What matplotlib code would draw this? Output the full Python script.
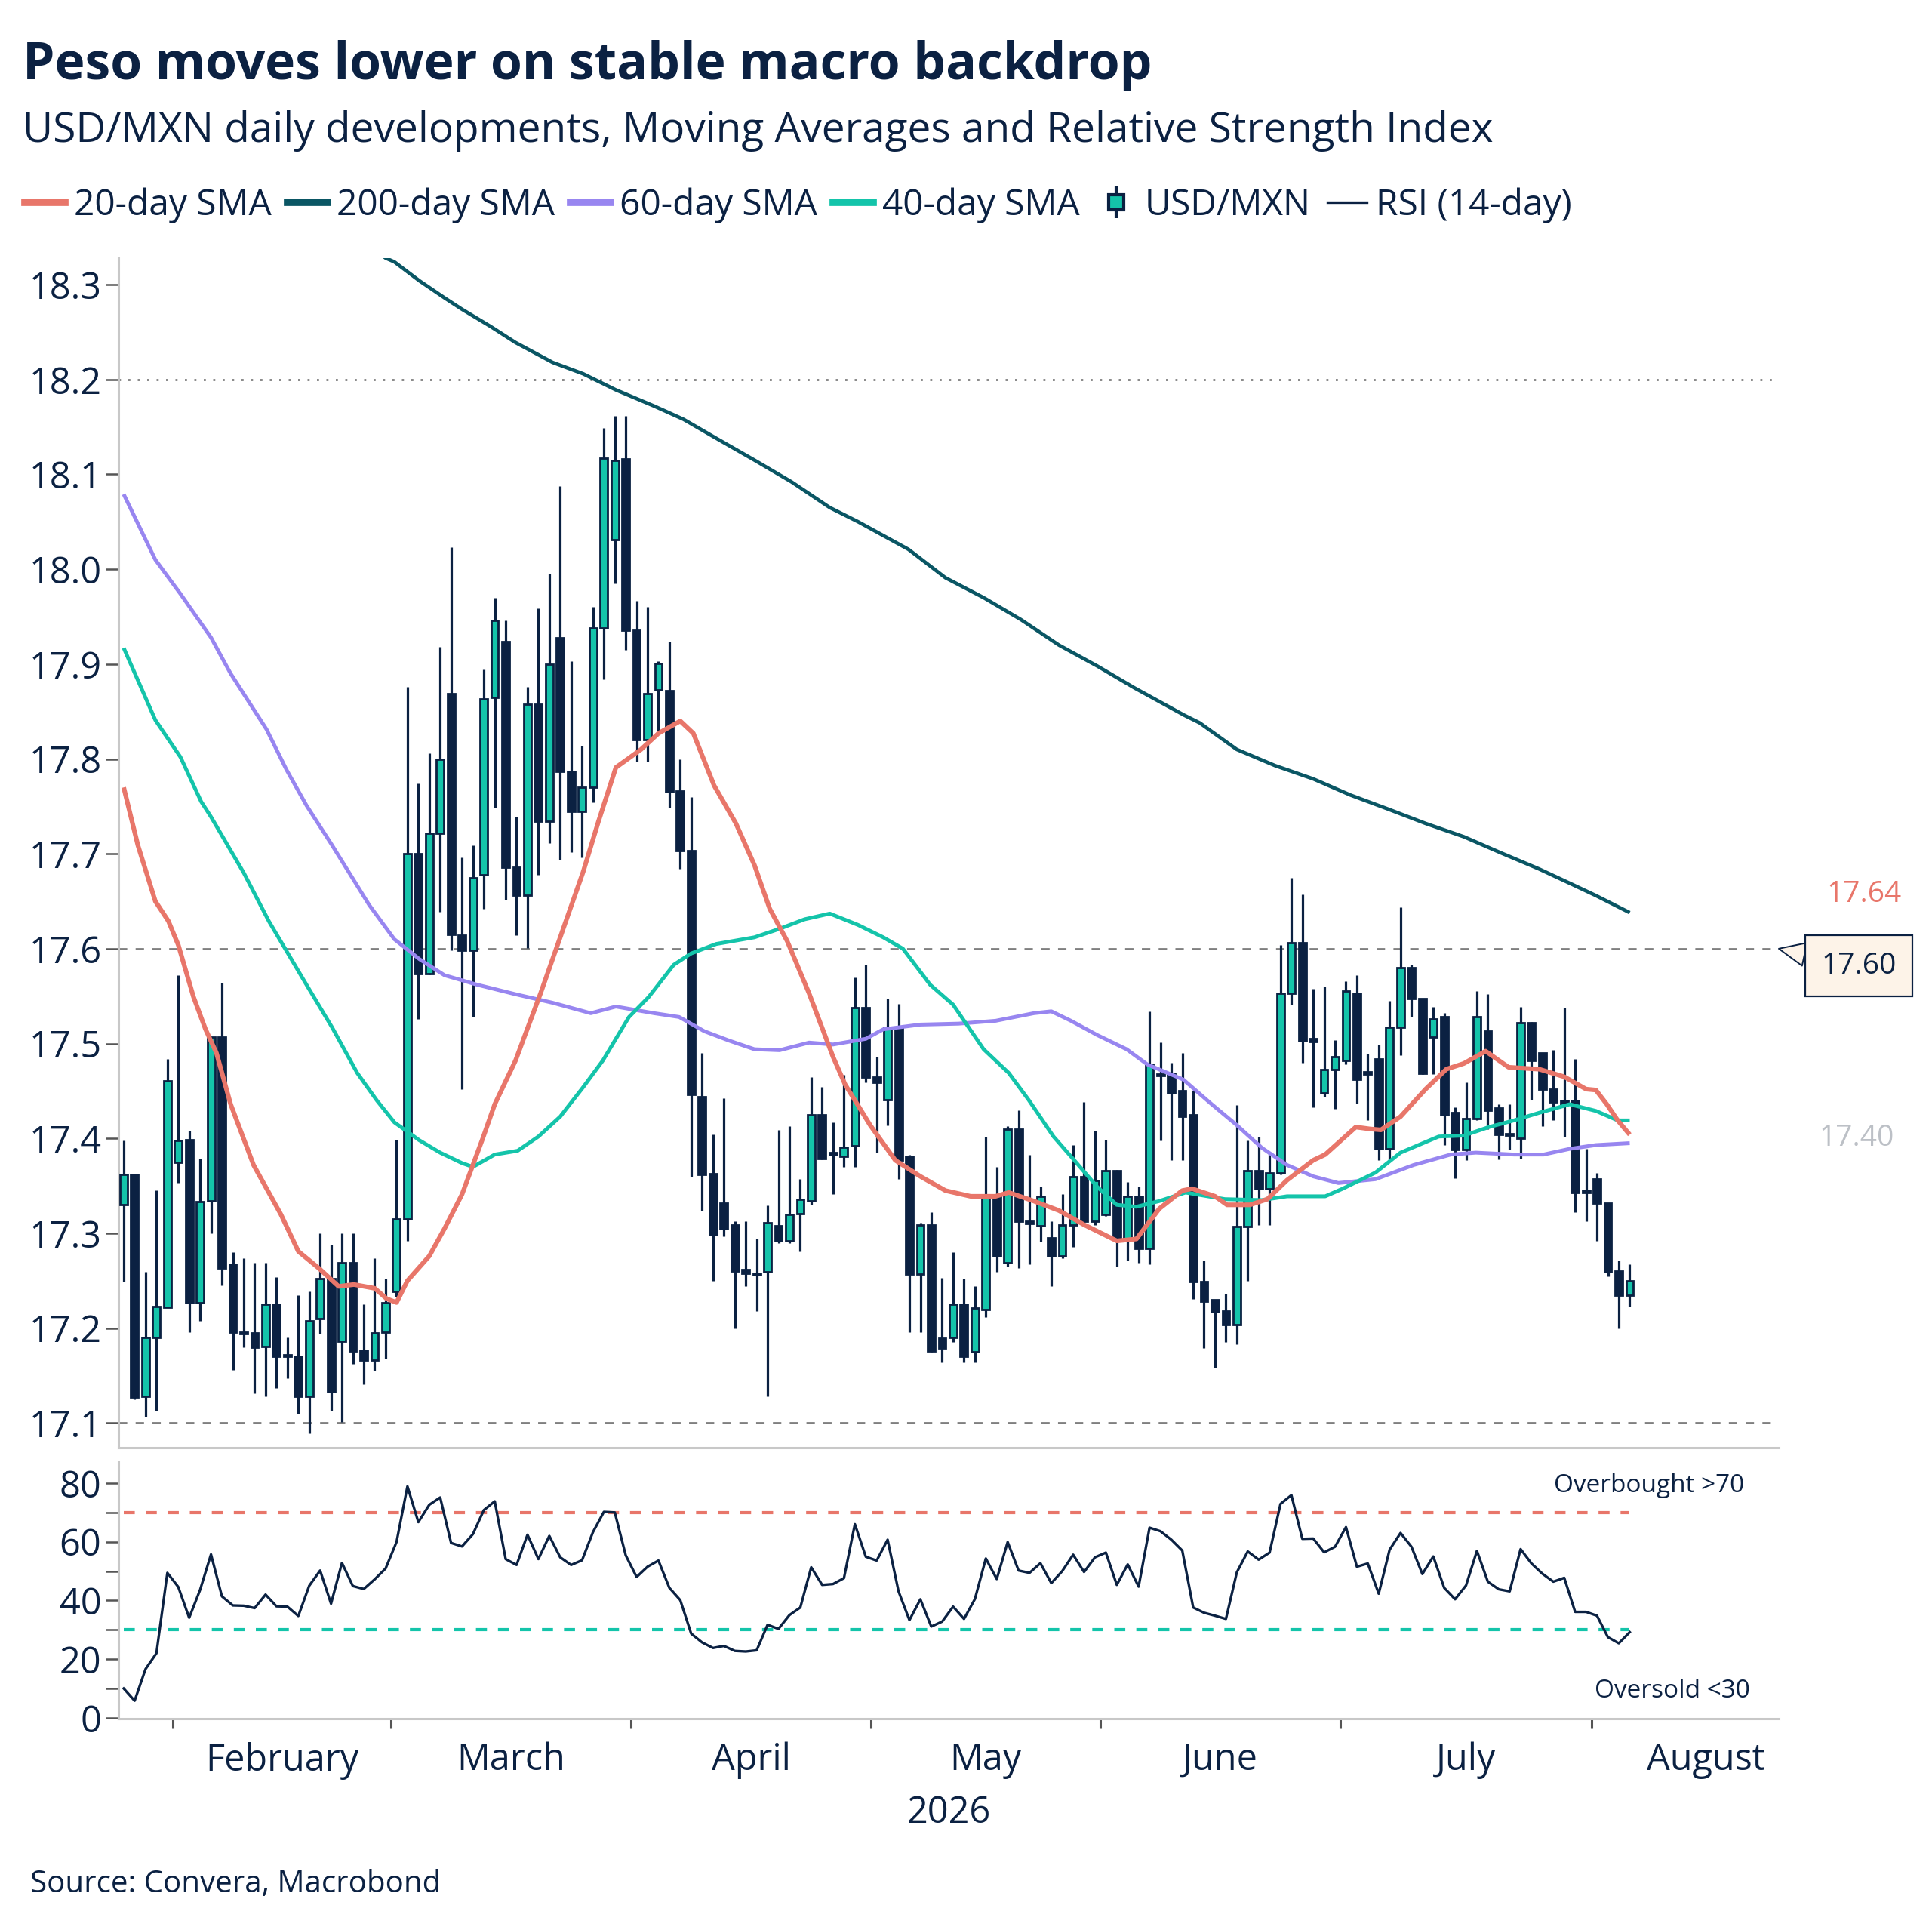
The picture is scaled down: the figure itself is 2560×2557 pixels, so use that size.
import numpy as np
import pandas as pd
import matplotlib
matplotlib.use("Agg")
import matplotlib.pyplot as plt
from matplotlib.lines import Line2D
from matplotlib.legend_handler import HandlerTuple
import matplotlib.transforms as mtransforms

plt.rcParams['font.family'] = ['Open Sans', 'DejaVu Sans']

NAVY = '#0b2142'
TEAL = '#14c4aa'
RED = '#e8766a'
DTEAL = '#0a5664'
PURPLE = '#9886f0'
GRID = '#7f7f7f'
SPINE = '#c8c8c8'

# ---------------- data ----------------
dates = pd.bdate_range('2026-01-26', '2026-08-06')

opens = [17.330, 17.362, 17.128, 17.190, 17.222, 17.375, 17.399, 17.227, 17.334, 17.507,
         17.267, 17.196, 17.195, 17.181, 17.225, 17.172, 17.170, 17.128, 17.210, 17.252,
         17.186, 17.269, 17.177, 17.166, 17.196, 17.239, 17.315, 17.700, 17.574, 17.722,
         17.869, 17.614, 17.598, 17.678, 17.865, 17.924, 17.686, 17.656, 17.858, 17.734,
         17.928, 17.787, 17.745, 17.770, 17.938, 18.031, 18.116, 17.936, 17.820, 17.873,
         17.872, 17.766, 17.703, 17.444, 17.363, 17.332, 17.309, 17.262, 17.258, 17.259,
         17.308, 17.292, 17.321, 17.334, 17.425, 17.385, 17.381, 17.392, 17.538, 17.465,
         17.441, 17.517, 17.381, 17.257, 17.309, 17.189, 17.190, 17.225, 17.175, 17.220,
         17.339, 17.269, 17.410, 17.313, 17.308, 17.295, 17.276, 17.309, 17.360, 17.313,
         17.320, 17.366, 17.294, 17.339, 17.284, 17.468, 17.469, 17.450, 17.425, 17.249,
         17.230, 17.218, 17.204, 17.307, 17.366, 17.347, 17.364, 17.553, 17.606, 17.505,
         17.448, 17.473, 17.482, 17.553, 17.470, 17.484, 17.389, 17.517, 17.580, 17.547,
         17.507, 17.528, 17.427, 17.388, 17.421, 17.513, 17.432, 17.405, 17.400, 17.522,
         17.490, 17.452, 17.440, 17.440, 17.345, 17.357, 17.332, 17.260, 17.235]
highs = [17.398, 17.362, 17.259, 17.345, 17.484, 17.572, 17.408, 17.379, 17.507, 17.564,
         17.280, 17.274, 17.269, 17.269, 17.254, 17.190, 17.235, 17.239, 17.300, 17.288,
         17.300, 17.300, 17.225, 17.274, 17.252, 17.399, 17.876, 17.774, 17.806, 17.918,
         18.023, 17.696, 17.709, 17.894, 17.970, 17.946, 17.739, 17.876, 17.959, 17.995,
         18.088, 17.903, 17.814, 17.960, 18.149, 18.162, 18.162, 17.967, 17.960, 17.903,
         17.924, 17.800, 17.760, 17.490, 17.404, 17.442, 17.313, 17.313, 17.294, 17.329,
         17.409, 17.413, 17.357, 17.465, 17.454, 17.417, 17.467, 17.570, 17.583, 17.486,
         17.547, 17.542, 17.383, 17.311, 17.322, 17.253, 17.280, 17.252, 17.244, 17.402,
         17.370, 17.413, 17.430, 17.383, 17.349, 17.313, 17.341, 17.393, 17.438, 17.408,
         17.399, 17.367, 17.354, 17.349, 17.534, 17.501, 17.480, 17.490, 17.450, 17.271,
         17.230, 17.236, 17.435, 17.398, 17.402, 17.385, 17.604, 17.675, 17.657, 17.558,
         17.560, 17.504, 17.566, 17.572, 17.489, 17.499, 17.545, 17.644, 17.583, 17.547,
         17.539, 17.532, 17.433, 17.459, 17.555, 17.552, 17.436, 17.436, 17.539, 17.523,
         17.490, 17.493, 17.538, 17.484, 17.389, 17.364, 17.332, 17.271, 17.267]
lows = [17.249, 17.125, 17.107, 17.113, 17.222, 17.353, 17.196, 17.208, 17.300, 17.245,
        17.156, 17.180, 17.131, 17.128, 17.137, 17.147, 17.110, 17.089, 17.194, 17.113,
        17.101, 17.162, 17.141, 17.155, 17.168, 17.233, 17.292, 17.526, 17.573, 17.639,
        17.598, 17.452, 17.528, 17.642, 17.749, 17.652, 17.614, 17.601, 17.678, 17.711,
        17.694, 17.702, 17.696, 17.754, 17.884, 17.985, 17.915, 17.797, 17.797, 17.829,
        17.749, 17.684, 17.360, 17.324, 17.250, 17.297, 17.200, 17.244, 17.218, 17.128,
        17.290, 17.290, 17.281, 17.330, 17.378, 17.341, 17.370, 17.370, 17.459, 17.385,
        17.414, 17.357, 17.196, 17.196, 17.175, 17.164, 17.185, 17.164, 17.164, 17.212,
        17.259, 17.265, 17.263, 17.267, 17.291, 17.244, 17.274, 17.286, 17.309, 17.309,
        17.318, 17.265, 17.271, 17.269, 17.267, 17.398, 17.377, 17.377, 17.231, 17.179,
        17.158, 17.185, 17.183, 17.250, 17.309, 17.309, 17.362, 17.541, 17.480, 17.433,
        17.444, 17.431, 17.478, 17.437, 17.419, 17.377, 17.377, 17.488, 17.528, 17.468,
        17.468, 17.393, 17.358, 17.377, 17.419, 17.410, 17.378, 17.388, 17.379, 17.441,
        17.413, 17.419, 17.402, 17.322, 17.313, 17.292, 17.255, 17.200, 17.223]
closes = [17.362, 17.127, 17.190, 17.223, 17.461, 17.398, 17.227, 17.333, 17.507, 17.263,
          17.196, 17.194, 17.180, 17.225, 17.170, 17.170, 17.128, 17.208, 17.252, 17.133,
          17.269, 17.176, 17.166, 17.195, 17.227, 17.315, 17.700, 17.574, 17.722, 17.800,
          17.615, 17.598, 17.675, 17.863, 17.946, 17.686, 17.656, 17.858, 17.734, 17.900,
          17.787, 17.745, 17.770, 17.938, 18.117, 18.115, 17.936, 17.820, 17.869, 17.901,
          17.765, 17.703, 17.446, 17.362, 17.298, 17.305, 17.260, 17.258, 17.256, 17.311,
          17.292, 17.320, 17.336, 17.425, 17.379, 17.383, 17.391, 17.538, 17.465, 17.459,
          17.517, 17.377, 17.257, 17.309, 17.176, 17.179, 17.225, 17.170, 17.221, 17.339,
          17.276, 17.410, 17.313, 17.310, 17.339, 17.276, 17.309, 17.360, 17.313, 17.356,
          17.366, 17.294, 17.339, 17.284, 17.478, 17.466, 17.448, 17.423, 17.249, 17.228,
          17.217, 17.204, 17.307, 17.366, 17.347, 17.364, 17.553, 17.606, 17.503, 17.502,
          17.473, 17.486, 17.555, 17.462, 17.468, 17.389, 17.517, 17.580, 17.547, 17.469,
          17.526, 17.425, 17.388, 17.421, 17.528, 17.430, 17.404, 17.403, 17.522, 17.482,
          17.452, 17.438, 17.436, 17.343, 17.343, 17.332, 17.259, 17.235, 17.250]

sma20_x = [0, 1.3, 2.9, 4.1, 5.0, 6.4, 7.5, 8.5, 9.8, 11.9, 14.4, 16.0, 17.9, 19.7, 21.1, 23.0,
           24.1, 25.0, 26.0, 28.0, 29.4, 31.0, 32.9, 34.0, 35.9, 38.2, 40.0, 42.1, 43.5, 45.1,
           47.4, 49.0, 51.0, 52.2, 54.1, 56.1, 57.8, 59.2, 60.8, 62.8, 65.0, 66.1, 68.4, 70.7,
           73.0, 75.3, 77.6, 79.9, 81.1, 83.4, 85.7, 88.0, 91.0, 92.8, 94.9, 97.0, 97.9, 100.0,
           101.1, 103.2, 104.8, 106.6, 109.0, 110.1, 112.9, 114.2, 115.2, 117.0, 119.3, 121.2,
           122.8, 124.8, 126.9, 129.7, 132.0, 134.0, 134.9, 135.9, 136.9, 138.0]
sma20_v = [17.770, 17.709, 17.650, 17.629, 17.604, 17.549, 17.515, 17.490, 17.436, 17.372,
           17.320, 17.281, 17.263, 17.244, 17.246, 17.242, 17.231, 17.227, 17.250, 17.276,
           17.305, 17.341, 17.400, 17.436, 17.482, 17.553, 17.612, 17.681, 17.734, 17.791,
           17.810, 17.827, 17.840, 17.827, 17.772, 17.732, 17.688, 17.642, 17.608, 17.553,
           17.486, 17.457, 17.414, 17.377, 17.360, 17.345, 17.339, 17.339, 17.343, 17.334,
           17.324, 17.309, 17.292, 17.294, 17.326, 17.345, 17.347, 17.339, 17.330, 17.330,
           17.336, 17.356, 17.377, 17.383, 17.412, 17.410, 17.409, 17.423, 17.452, 17.473,
           17.479, 17.492, 17.475, 17.473, 17.465, 17.452, 17.451, 17.436, 17.419, 17.404]

sma40_x = [0, 2.9, 5.2, 7.1, 8.0, 11.0, 13.3, 16.75, 19.1, 21.4, 23.2, 24.8, 27.1, 29.0, 31.0,
           32.0, 34.0, 36.1, 38.0, 40.0, 42.1, 43.9, 46.3, 48.1, 50.4, 52.0, 54.3, 57.8, 60.1,
           62.4, 64.7, 67.3, 69.6, 71.4, 73.9, 76.0, 78.8, 81.1, 82.9, 85.2, 87.1, 89.2, 91.0,
           92.8, 94.9, 97.3, 100.9, 104.3, 106.6, 110.1, 111.7, 114.7, 117.0, 120.5, 122.8,
           125.1, 127.4, 129.7, 132.5, 134.9, 136.9, 138.0]
sma40_v = [17.917, 17.841, 17.802, 17.755, 17.739, 17.680, 17.629, 17.562, 17.517, 17.469,
           17.440, 17.417, 17.398, 17.385, 17.374, 17.370, 17.383, 17.387, 17.402, 17.423,
           17.454, 17.482, 17.528, 17.549, 17.583, 17.595, 17.605, 17.612, 17.621, 17.631,
           17.637, 17.625, 17.612, 17.600, 17.562, 17.541, 17.494, 17.469, 17.441, 17.402,
           17.377, 17.349, 17.330, 17.328, 17.334, 17.343, 17.336, 17.335, 17.339, 17.339,
           17.347, 17.364, 17.385, 17.402, 17.403, 17.412, 17.419, 17.427, 17.436, 17.429,
           17.419, 17.419]

sma60_x = [0, 2.9, 5.2, 8.0, 9.8, 13.1, 14.9, 16.75, 19.1, 22.5, 24.8, 27.1, 29.4, 32.4, 35.9,
           39.3, 42.8, 45.1, 48.6, 50.9, 53.2, 55.5, 57.8, 60.1, 62.8, 65.0, 68.0, 69.6, 73.0,
           76.5, 79.9, 83.4, 85.0, 86.8, 89.2, 91.9, 93.8, 97.1, 99.7, 102.0, 104.3, 106.6,
           109.0, 111.3, 114.7, 118.2, 121.6, 123.9, 127.4, 130.1, 132.5, 134.9, 138.0]
sma60_v = [18.079, 18.010, 17.974, 17.928, 17.890, 17.831, 17.789, 17.751, 17.709, 17.646,
           17.610, 17.589, 17.572, 17.562, 17.552, 17.543, 17.532, 17.539, 17.532, 17.528,
           17.513, 17.503, 17.494, 17.493, 17.501, 17.499, 17.505, 17.515, 17.520, 17.521,
           17.524, 17.532, 17.534, 17.524, 17.509, 17.494, 17.478, 17.462, 17.436, 17.414,
           17.390, 17.372, 17.360, 17.353, 17.357, 17.372, 17.383, 17.385, 17.383, 17.383,
           17.389, 17.393, 17.395]

sma200_x = [22.5, 24.0, 24.8, 27.1, 29.4, 31.0, 33.6, 35.9, 39.3, 42.1, 45.1, 48.6, 51.3, 54.3,
            57.8, 61.2, 64.7, 67.3, 71.9, 75.3, 78.8, 82.2, 85.7, 89.2, 92.6, 97.2, 98.6,
            102.0, 105.5, 109.0, 112.4, 115.9, 119.3, 122.8, 126.2, 129.7, 132.5, 134.9, 138.0]
sma200_v = [18.342, 18.328, 18.324, 18.304, 18.286, 18.274, 18.256, 18.239, 18.218, 18.206,
            18.189, 18.172, 18.158, 18.138, 18.115, 18.092, 18.065, 18.050, 18.021, 17.991,
            17.970, 17.947, 17.920, 17.898, 17.875, 17.846, 17.838, 17.810, 17.793, 17.779,
            17.762, 17.747, 17.732, 17.718, 17.701, 17.684, 17.669, 17.656, 17.638]

rsi = [10.0, 5.8, 16.6, 22.0, 49.4, 44.6, 34.1, 43.6, 55.7, 41.4,
       38.3, 38.2, 37.4, 42.0, 38.0, 37.9, 34.7, 45.0, 50.2, 38.9,
       52.8, 44.9, 43.9, 47.2, 50.9, 59.9, 78.9, 66.7, 72.6, 75.1,
       59.6, 58.4, 62.6, 70.8, 73.8, 54.1, 52.1, 62.4, 54.1, 62.0,
       54.7, 52.1, 53.7, 63.3, 70.2, 70.0, 55.4, 48.0, 51.5, 53.6,
       44.3, 40.1, 28.7, 25.7, 23.8, 24.5, 22.8, 22.6, 23.0, 31.7,
       30.3, 35.0, 37.6, 51.3, 45.3, 45.6, 47.6, 66.0, 54.9, 53.6,
       60.7, 43.1, 33.3, 40.4, 31.1, 32.8, 37.9, 33.7, 40.5, 54.3,
       47.3, 59.9, 50.2, 49.4, 52.7, 45.9, 50.0, 55.6, 49.7, 54.7,
       56.3, 45.3, 52.3, 44.7, 64.8, 63.6, 60.7, 57.0, 37.6, 35.8,
       34.8, 33.7, 49.6, 56.7, 53.9, 56.3, 72.9, 75.9, 61.0, 61.1,
       56.4, 58.3, 65.0, 51.5, 52.6, 42.3, 57.3, 63.0, 58.3, 49.0,
       55.0, 44.3, 40.4, 45.1, 56.9, 46.4, 43.8, 43.1, 57.5, 52.6,
       49.1, 46.4, 47.7, 36.1, 36.1, 34.8, 27.5, 25.4, 29.2]

price_ticks = [17.1, 17.2, 17.3, 17.4, 17.5, 17.6, 17.7, 17.8, 17.9, 18.0, 18.1, 18.2, 18.3]
rsi_ticks = [0, 20, 40, 60, 80]
rsi_minor = [10, 30, 50, 70]
overbought = 70
oversold = 30
ref_dotted = 18.2
ref_dashed = [17.6, 17.1]
label_200 = 17.64
label_box = 17.60
label_grey = 17.40

# ---------------- figure ----------------
x = np.arange(len(dates))
o, h, l, c = map(np.asarray, (opens, highs, lows, closes))

fig = plt.figure(figsize=(25.6, 25.57), dpi=100)
ax = fig.add_axes([0.0612, 0.2499, 0.8595, 0.6164])
axr = fig.add_axes([0.0612, 0.1095, 0.8595, 0.1330])

XMIN, XMAX = -0.5, 151.66

# reference lines
ax.axhline(ref_dotted, color=GRID, lw=2.0, ls=(0, (1, 3.5)), zorder=1)
for v in ref_dashed:
    ax.axhline(v, color=GRID, lw=2.0, ls=(0, (4, 4)), zorder=1)

# candles
up = c >= o
bot = np.minimum(o, c)
hgt = np.abs(c - o)
ax.vlines(x, l, h, color=NAVY, lw=2.3, zorder=3)
ax.bar(x[up], hgt[up], bottom=bot[up], width=0.68, color=TEAL, edgecolor=NAVY,
       linewidth=2.0, zorder=4)
ax.bar(x[~up], hgt[~up], bottom=bot[~up], width=0.68, color=NAVY, edgecolor=NAVY,
       linewidth=2.0, zorder=4)

# moving averages
ax.plot(sma20_x, sma20_v, color=RED, lw=4.4, zorder=6, solid_capstyle='butt')
ax.plot(sma200_x, sma200_v, color=DTEAL, lw=3.4, zorder=5, solid_capstyle='butt')
ax.plot(sma60_x, sma60_v, color=PURPLE, lw=3.6, zorder=5, solid_capstyle='butt')
ax.plot(sma40_x, sma40_v, color=TEAL, lw=3.6, zorder=5, solid_capstyle='butt')

ax.set_xlim(XMIN, XMAX)
ax.set_ylim(17.074, 18.328)
ax.set_yticks(price_ticks)
ax.set_yticklabels([f'{t:.1f}' for t in price_ticks])
ax.tick_params(axis='y', length=12, width=1.8, color='#555555', labelsize=35,
               labelcolor=NAVY, pad=4)
ax.set_xticks([])
ax.tick_params(axis='x', which='both', bottom=False, labelbottom=False)
for s in ['top', 'right']:
    ax.spines[s].set_visible(False)
for s in ['left', 'bottom']:
    ax.spines[s].set_color(SPINE)
    ax.spines[s].set_linewidth(2.2)

# right-side labels
trans = mtransforms.blended_transform_factory(ax.transAxes, ax.transData)
ax.text(1.0513, label_200 + 0.017, f'{label_200:.2f}', transform=trans, color=RED,
        fontsize=28, ha='center', va='center', clip_on=False)
ax.text(1.0470, label_grey, f'{label_grey:.2f}', transform=trans, color='#bcc0c6',
        fontsize=28, ha='center', va='center', clip_on=False)
ax.annotate(f'{label_box:.2f}', xy=(1.0, label_box), xycoords=trans,
            xytext=(106, -23), textcoords='offset pixels', fontsize=28, color=NAVY,
            ha='center', va='center', annotation_clip=False,
            bbox=dict(boxstyle='square,pad=0.55', fc='#fdf3e8', ec=NAVY, lw=1.6),
            arrowprops=dict(arrowstyle='wedge,tail_width=0.8,shrink_factor=0.5',
                            fc='#fdf3e8', ec=NAVY, lw=1.4, shrinkA=0, shrinkB=0))

# RSI panel
axr.plot(x, rsi, color=NAVY, lw=2.4, zorder=4)
axr.hlines([overbought], x[0], x[-1], color=RED, lw=3.0, ls=(0, (3.5, 3.5)), zorder=2)
axr.hlines([oversold], x[0], x[-1], color=TEAL, lw=3.0, ls=(0, (3.5, 3.5)), zorder=2)
axr.text(148.5, 79.2, f'Overbought >{overbought}', ha='right', va='center', fontsize=24,
         color=NAVY)
axr.text(149.0, 9.0, f'Oversold <{oversold}', ha='right', va='center', fontsize=24,
         color=NAVY)
axr.set_ylim(-0.3, 87.2)
axr.set_yticks(rsi_ticks)
axr.set_yticks(rsi_minor, minor=True)
axr.tick_params(axis='y', which='both', length=12, width=1.8, color='#555555',
                labelsize=35, labelcolor=NAVY, pad=4)
for s in ['top', 'right']:
    axr.spines[s].set_visible(False)
for s in ['left', 'bottom']:
    axr.spines[s].set_color(SPINE)
    axr.spines[s].set_linewidth(2.2)

# month ticks (boundaries) and labels (centres)
months = pd.period_range('2026-02', '2026-08', freq='M')
bounds, centres, names = [], [], []
for m in months:
    bd = pd.bdate_range(m.start_time, m.end_time)
    first = int(np.searchsorted(dates, bd[0]))
    bounds.append(first - 0.5)
    centres.append(first + (len(bd) - 1) / 2)
    names.append(m.strftime('%B'))
axr.set_xticks(bounds)
axr.set_xticklabels([''] * len(bounds))
axr.set_xticks(centres, minor=True)
axr.set_xticklabels(names, minor=True)
axr.tick_params(axis='x', which='major', length=9, width=2.2, color='#555555',
                direction='out')
axr.tick_params(axis='x', which='minor', length=0, pad=22, labelsize=35,
                labelcolor=NAVY)
axr.set_xlim(XMIN, XMAX)
axr.set_xlabel(str(dates[0].year), fontsize=35, color=NAVY, labelpad=14)

# titles
fig.text(0.0117, 0.9589, 'Peso moves lower on stable macro backdrop', fontsize=48.8,
         fontweight='bold', color=NAVY, ha='left', va='baseline')
fig.text(0.0117, 0.9265,
         'USD/MXN daily developments, Moving Averages and Relative Strength Index',
         fontsize=39.6, color=NAVY, ha='left', va='baseline')
fig.text(0.0156, 0.0196, 'Source: Convera, Macrobond', fontsize=29, color=NAVY,
         ha='left', va='baseline')

# legend
candle_handle = (Line2D([], [], color=NAVY, marker='|', ms=30, mew=3, ls='None'),
                 Line2D([], [], color=NAVY, marker='s', ms=15, mfc=TEAL, mec=NAVY,
                        mew=3, ls='None'))
handles = [Line2D([], [], color=RED, lw=7), Line2D([], [], color=DTEAL, lw=7),
           Line2D([], [], color=PURPLE, lw=7), Line2D([], [], color=TEAL, lw=7),
           candle_handle, Line2D([], [], color=NAVY, lw=2.4)]
labels = ['20-day SMA', '200-day SMA', '60-day SMA', '40-day SMA', 'USD/MXN', 'RSI (14-day)']
fig.legend(handles, labels, loc='center left', bbox_to_anchor=(0.0129, 0.8936),
           ncol=6, frameon=False, fontsize=34.5, labelcolor=NAVY,
           handlelength=1.1, handletextpad=0.25, columnspacing=0.45,
           borderpad=0, borderaxespad=0,
           handler_map={tuple: HandlerTuple(ndivide=1)})

fig.savefig('out.png', dpi=100, facecolor='white')
